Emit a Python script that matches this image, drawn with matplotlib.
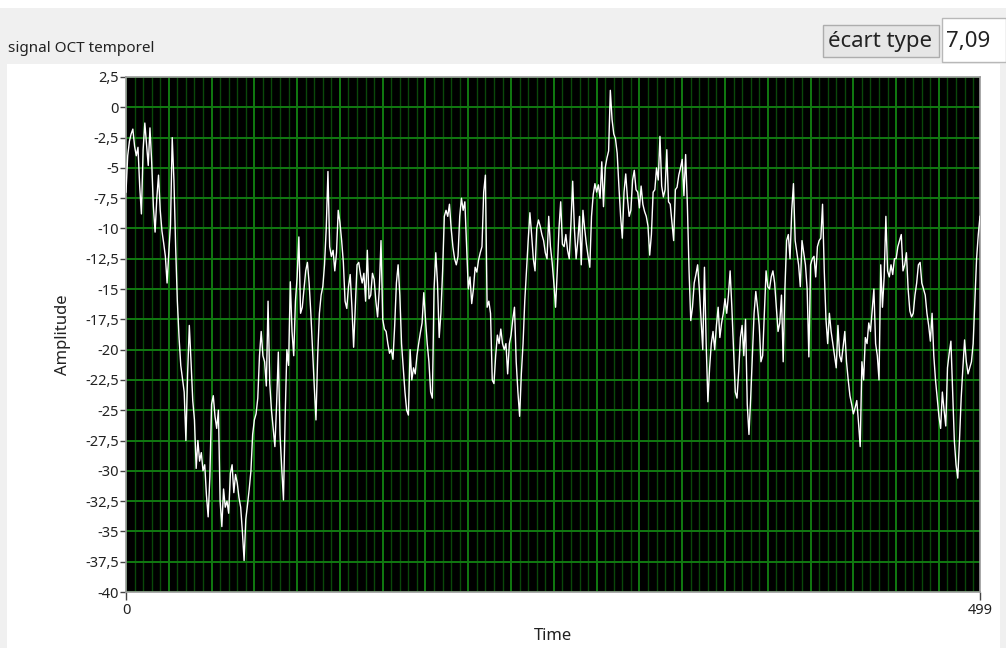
import numpy as np
import matplotlib
matplotlib.use("Agg")
import matplotlib.pyplot as plt
from matplotlib.patches import Rectangle
from matplotlib.ticker import FuncFormatter, MultipleLocator

plt.rcParams['font.family'] = ['Noto Sans', 'DejaVu Sans']
plt.rcParams['axes.unicode_minus'] = False

# amplitude, 100 samples per chunk
amp_000 = [-7.0, -4.0, -2.8, -2.2, -1.8, -3.2, -4.0, -3.3, -6.5, -8.8,
           -3.5, -1.3, -3.0, -4.8, -1.7, -4.5, -8.2, -10.3, -7.5, -5.6,
           -8.5, -10.2, -11.2, -12.3, -14.5, -12.0, -9.7, -2.5, -6.0, -11.5,
           -16.0, -19.0, -21.3, -22.4, -23.5, -27.5, -22.0, -18.0, -21.0, -24.2,
           -25.8, -29.8, -27.5, -29.2, -28.5, -30.0, -29.5, -32.0, -33.8, -30.5,
           -24.5, -23.8, -25.5, -26.5, -25.0, -32.5, -34.6, -31.5, -33.0, -32.5,
           -33.5, -30.2, -29.5, -31.8, -30.3, -31.0, -32.2, -33.0, -35.0, -37.4,
           -34.0, -32.8, -31.5, -30.0, -27.0, -25.8, -25.3, -24.0, -20.5, -18.5,
           -20.5, -21.0, -23.0, -16.0, -22.8, -25.0, -26.5, -28.0, -24.5, -20.2,
           -27.0, -29.8, -32.4, -25.5, -20.0, -21.3, -14.4, -18.5, -20.5, -16.0]
amp_100 = [-14.0, -10.7, -17.0, -16.5, -15.0, -13.5, -12.8, -14.5, -17.0, -20.0,
           -23.0, -25.8, -20.5, -17.0, -15.5, -14.8, -13.0, -10.0, -5.3, -11.5,
           -12.3, -11.8, -13.5, -12.0, -8.5, -9.5, -11.0, -12.8, -16.0, -16.6,
           -14.8, -13.8, -16.5, -19.8, -16.5, -13.0, -12.8, -13.8, -14.5, -13.7,
           -16.0, -11.8, -15.8, -15.5, -13.7, -14.2, -16.0, -17.3, -15.0, -11.0,
           -17.5, -18.3, -18.5, -19.5, -20.3, -20.0, -20.8, -18.0, -14.5, -13.0,
           -15.5, -19.5, -21.5, -23.5, -25.0, -25.4, -20.0, -22.5, -21.5, -22.0,
           -20.5, -19.5, -18.6, -17.8, -15.3, -17.5, -19.5, -21.0, -23.5, -24.0,
           -15.0, -12.0, -14.5, -19.0, -17.0, -13.5, -9.0, -8.5, -9.0, -8.0,
           -10.0, -11.5, -12.5, -13.0, -12.3, -9.0, -7.5, -8.5, -7.8, -11.5]
amp_200 = [-15.0, -14.0, -16.2, -15.0, -13.2, -13.6, -12.6, -12.0, -11.5, -7.0,
           -5.6, -16.5, -16.0, -17.0, -22.5, -22.8, -20.5, -18.8, -19.5, -18.3,
           -19.5, -20.0, -19.5, -22.0, -19.5, -18.8, -17.5, -16.5, -21.0, -23.5,
           -25.5, -22.0, -19.5, -16.0, -13.5, -11.0, -8.7, -10.5, -12.5, -13.5,
           -10.0, -9.3, -9.8, -10.5, -11.0, -12.0, -12.5, -9.0, -11.5, -12.8,
           -14.5, -16.5, -13.5, -10.0, -7.8, -11.3, -11.5, -10.5, -11.8, -12.5,
           -9.5, -6.1, -10.0, -12.5, -11.0, -9.0, -13.0, -8.5, -10.0, -11.3,
           -12.3, -13.2, -9.0, -7.2, -6.3, -7.0, -6.4, -7.5, -4.5, -8.2,
           -5.0, -4.2, -3.6, 1.4, -1.0, -2.2, -2.6, -3.8, -6.5, -9.0,
           -10.8, -7.0, -5.5, -7.5, -9.0, -8.5, -6.0, -5.2, -6.8, -7.0]
amp_300 = [-8.3, -6.5, -8.0, -8.6, -9.0, -9.8, -12.2, -10.5, -7.0, -6.8,
           -5.0, -6.0, -2.4, -6.5, -7.4, -6.8, -3.5, -7.8, -8.0, -9.5,
           -11.0, -6.8, -6.6, -5.6, -5.0, -4.3, -7.3, -3.9, -8.0, -13.5,
           -17.6, -16.5, -14.5, -13.8, -13.0, -15.0, -17.5, -20.0, -13.2, -19.5,
           -24.3, -21.5, -19.5, -18.5, -20.0, -18.0, -16.5, -19.0, -17.8, -17.0,
           -15.8, -17.0, -15.5, -13.5, -16.5, -20.0, -23.5, -24.0, -21.8, -19.0,
           -18.0, -20.5, -17.5, -24.5, -27.0, -24.0, -20.5, -17.0, -15.2, -16.5,
           -18.0, -21.0, -20.5, -17.0, -13.5, -14.8, -15.0, -14.0, -13.5, -14.5,
           -16.5, -18.5, -17.8, -15.5, -21.0, -15.0, -11.0, -10.5, -12.5, -8.5,
           -6.3, -11.0, -12.0, -13.0, -14.8, -11.0, -12.0, -13.0, -15.0, -20.6]
amp_400 = [-13.0, -12.5, -12.3, -14.0, -11.5, -11.0, -10.8, -8.0, -13.5, -17.5,
           -19.5, -17.0, -18.5, -19.5, -20.5, -21.5, -18.0, -20.5, -21.0, -19.8,
           -18.5, -21.0, -22.5, -23.8, -24.5, -25.3, -24.8, -24.2, -26.0, -28.0,
           -21.0, -22.5, -19.0, -19.5, -17.8, -18.5, -16.8, -15.0, -19.5, -20.5,
           -22.5, -13.0, -16.5, -14.0, -9.0, -13.5, -14.0, -13.0, -13.8, -12.5,
           -12.5, -11.5, -11.0, -10.5, -13.5, -13.0, -12.0, -15.0, -16.8, -17.3,
           -17.0, -15.5, -14.5, -13.0, -12.8, -14.5, -15.0, -15.5, -17.0, -18.0,
           -19.3, -17.0, -20.5, -22.5, -24.0, -25.5, -26.5, -23.5, -25.0, -26.3,
           -21.5, -20.3, -19.3, -23.5, -27.5, -29.5, -30.6, -27.5, -24.0, -21.5,
           -19.2, -21.0, -22.0, -21.5, -21.0, -19.5, -16.0, -12.5, -10.5, -9.0]

amplitude = np.array(amp_000 + amp_100 + amp_200 + amp_300 + amp_400)
time = np.arange(len(amplitude))

title = "signal OCT temporel"
std_label = "écart type"
std_value = "7,09"

W, H = 1006, 648
fig = plt.figure(figsize=(W / 100, H / 100), dpi=100, facecolor='#f0f0f0')


def px_rect(x, y, w, h, z=-10, **kw):
    # rectangle given in pixel coords from top-left
    fig.add_artist(Rectangle((x / W, 1 - (y + h) / H), w / W, h / H,
                             transform=fig.transFigure, zorder=z, **kw))


# panel background
px_rect(0, 0, W, 8, facecolor='white', edgecolor='none')
px_rect(7, 64, 993, H - 64, facecolor='white', edgecolor='none')

fig.text(8 / W, 1 - 48 / H, title, fontsize=11, color='#222222', va='center', ha='left')

# std-dev indicator
px_rect(823, 25, 116, 32, facecolor='#e6e6e6', edgecolor='#adadad', linewidth=1)
fig.text(880 / W, 1 - 42 / H, std_label, fontsize=16, color='#222222', va='center', ha='center')
px_rect(942, 18, 64, 44, facecolor='white', edgecolor='#b8b8b8', linewidth=1)
fig.text(946 / W, 1 - 42 / H, std_value, fontsize=16, color='#222222', va='center', ha='left')

# plot area
left, right, top, bottom = 126, 980, 77, 592
ax = fig.add_axes([left / W, 1 - bottom / H, (right - left) / W, (bottom - top) / H])
ax.set_facecolor('black')

for v in range(0, 500, 5):
    major = v % 25 == 0
    ax.axvline(v, color='#117a11' if major else '#0a480a', lw=1.4 if major else 1.0, zorder=1)
for v in np.arange(-40, 2.6, 2.5):
    ax.axhline(v, color='#117a11', lw=1.4, zorder=1)

ax.plot(time, amplitude, color='white', lw=1.0, zorder=3)

ax.set_xlim(0, 499)
ax.set_ylim(-40, 2.5)
ax.yaxis.set_major_locator(MultipleLocator(2.5))
ax.yaxis.set_major_formatter(FuncFormatter(lambda v, p: f"{v:g}".replace('.', ',')))
ax.set_xticks([0, 499])
ax.tick_params(axis='both', colors='#444444', labelcolor='#222222', labelsize=10.5,
               length=4, width=1, pad=1)
ax.tick_params(axis='x', length=6, pad=2)
for s in ax.spines.values():
    s.set_color('#9a9a9a')
    s.set_linewidth(1.2)

fig.text(553 / W, 1 - 636 / H, "Time", fontsize=12, color='#222222', ha='center', va='center')
fig.text(63 / W, 1 - 335 / H, "Amplitude", fontsize=12, color='#222222', ha='center',
         va='center', rotation=90)

fig.savefig("out.png", dpi=100, facecolor=fig.get_facecolor())
